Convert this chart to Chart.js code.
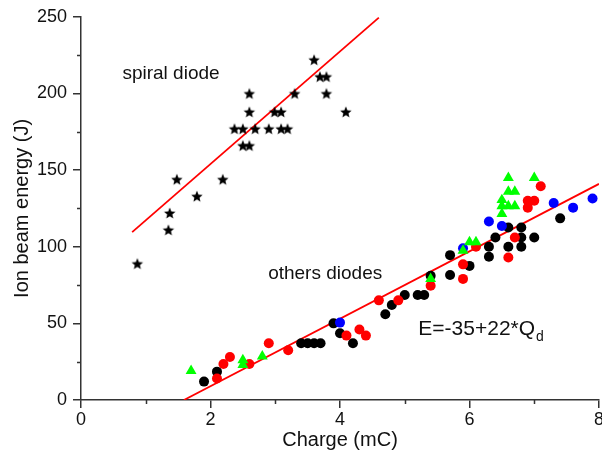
<!DOCTYPE html>
<html>
<head>
<meta charset="utf-8">
<script src="https://cdn.jsdelivr.net/npm/chart.js@4/dist/chart.umd.min.js"></script>
<style>
  html, body { margin: 0; padding: 0; background: #fff; overflow: hidden; }
  #caixa { width: 620px; height: 463px; }
</style>
</head>
<body>
<div id="caixa"><canvas id="grafico" width="620" height="463"></canvas></div>
<script>
// spiral diode (stars)
const espiralX = [0.87, 1.35, 1.37, 1.48, 1.79, 2.19, 2.37, 2.5, 2.5, 2.6, 2.6, 2.6, 2.69, 2.9, 2.99, 3.09, 3.09, 3.19, 3.3, 3.6, 3.69, 3.79, 3.79, 4.09];
const espiralY = [89, 111, 122, 144, 133, 144, 177, 177, 166, 166, 188, 200, 177, 177, 188, 188, 177, 177, 200, 222, 211, 211, 200, 188];

// others diodes
const pretoX = [1.9, 2.1, 3.4, 3.5, 3.6, 3.7, 3.9, 4.0, 4.2, 4.7, 4.8, 5.0, 5.2, 5.3, 5.4, 5.7, 5.7, 6.0, 6.3, 6.3, 6.4, 6.6, 6.6, 6.8, 6.8, 6.8, 7.0, 7.4];
const pretoY = [12, 18.5, 37, 37, 37, 37, 50, 43.5, 37, 56, 62, 68.5, 68.5, 68.5, 81, 81.5, 94.5, 87.5, 100, 93.5, 106, 112.5, 100, 112.5, 106, 100, 106, 118.5];

const vermelhoX = [2.1, 2.2, 2.3, 2.6, 2.9, 3.2, 4.1, 4.3, 4.4, 4.6, 4.9, 5.4, 5.9, 5.9, 6.1, 6.6, 6.7, 6.9, 7.0, 6.9, 7.1];
const vermelhoY = [14, 23.5, 28, 23.5, 37, 32.5, 42, 46, 42, 65, 65, 74.5, 88.5, 79, 100, 93, 106, 130, 130, 125.5, 139.5];

const azulX = [4.0, 5.9, 6.3, 6.5, 7.3, 7.6, 7.9];
const azulY = [50.5, 99, 116.5, 113.5, 128.5, 125.5, 131.5];

const verdeX = [1.7, 2.5, 2.5, 2.8, 5.4, 5.9, 6.0, 6.1, 6.5, 6.5, 6.5, 6.6, 6.6, 6.6, 6.7, 6.7, 7.0];
const verdeY = [19, 26, 23, 28.5, 79, 97.5, 103, 103, 130.5, 126.5, 121.5, 145, 136, 126.5, 136, 126.5, 145];

// fitted lines (end points)
const ajusteEspiralX = [0.79, 4.6];
const ajusteEspiralY = [109.5, 249.5];
const ajusteOutrosX = [1.59, 8];
const ajusteOutrosY = [0, 141];

const ticksX = [0, 2, 4, 6, 8];
const ticksY = [0, 50, 100, 150, 200, 250];
const menoresX = [1, 3, 5, 7];
const menoresY = [25, 75, 125, 175, 225];

function juntar(xs, ys) {
    return xs.map((v, i) => ({ x: v, y: ys[i] }));
}

function criarEstrela(raio) {
    const c = document.createElement('canvas');
    const tam = Math.ceil(raio * 2) + 2;
    c.width = tam;
    c.height = tam;
    const g = c.getContext('2d');
    g.fillStyle = '#000';
    g.beginPath();
    for (let i = 0; i < 10; i++) {
        const r = i % 2 === 0 ? raio : raio * 0.45;
        const ang = -Math.PI / 2 + i * Math.PI / 5;
        const px = tam / 2 + r * Math.cos(ang);
        const py = tam / 2 + r * Math.sin(ang) + 0.6;
        if (i === 0) g.moveTo(px, py); else g.lineTo(px, py);
    }
    g.closePath();
    g.fill();
    return c;
}

const fonte = 'Liberation Sans, Arial, sans-serif';
const corEixo = '#333';

const textos = {
    id: 'textos',
    afterDraw(chart) {
        const { ctx, scales: { x, y }, chartArea } = chart;
        ctx.save();
        ctx.strokeStyle = corEixo;
        ctx.lineWidth = 1.5;
        ctx.beginPath();
        menoresX.forEach(v => {
            const p = Math.round(x.getPixelForValue(v)) + 0.5;
            ctx.moveTo(p, chartArea.bottom);
            ctx.lineTo(p, chartArea.bottom + 4);
        });
        menoresY.forEach(v => {
            const p = Math.round(y.getPixelForValue(v)) + 0.5;
            ctx.moveTo(chartArea.left - 4, p);
            ctx.lineTo(chartArea.left, p);
        });
        ctx.stroke();

        ctx.fillStyle = '#111';
        ctx.textBaseline = 'middle';
        ctx.textAlign = 'left';
        ctx.font = '19px ' + fonte;
        ctx.fillText('spiral diode', x.getPixelForValue(0.64), y.getPixelForValue(213));
        ctx.fillText('others diodes', x.getPixelForValue(2.89), y.getPixelForValue(82.5));

        ctx.font = '21px ' + fonte;
        const ex = x.getPixelForValue(5.21);
        const ey = y.getPixelForValue(46);
        const eq = 'E=-35+22*Q';
        ctx.fillText(eq, ex, ey);
        const w = ctx.measureText(eq).width;
        ctx.font = '14px ' + fonte;
        ctx.fillText('d', ex + w + 1, ey + 8);
        ctx.restore();
    }
};

const ctx = document.getElementById('grafico').getContext('2d');

const grafico = new Chart(ctx, {
    type: 'scatter',
    data: {
        datasets: [
            {
                label: 'green',
                data: juntar(verdeX, verdeY),
                pointStyle: 'triangle',
                pointRadius: 6.3,
                backgroundColor: '#00ff00',
                borderColor: '#00ff00',
                borderWidth: 0,
                order: 1
            },
            {
                label: 'blue',
                data: juntar(azulX, azulY),
                pointRadius: 5,
                backgroundColor: '#0000ff',
                borderColor: '#0000ff',
                borderWidth: 0,
                order: 2
            },
            {
                label: 'red',
                data: juntar(vermelhoX, vermelhoY),
                pointRadius: 5,
                backgroundColor: '#ff0000',
                borderColor: '#ff0000',
                borderWidth: 0,
                order: 3
            },
            {
                label: 'black',
                data: juntar(pretoX, pretoY),
                pointRadius: 5,
                backgroundColor: '#000',
                borderColor: '#000',
                borderWidth: 0,
                order: 4
            },
            {
                label: 'spiral',
                data: juntar(espiralX, espiralY),
                pointStyle: criarEstrela(6),
                pointRadius: 6,
                order: 5
            },
            {
                type: 'line',
                label: 'fit spiral',
                data: juntar(ajusteEspiralX, ajusteEspiralY),
                borderColor: '#ff0000',
                borderWidth: 1.8,
                pointRadius: 0,
                fill: false,
                order: 10
            },
            {
                type: 'line',
                label: 'fit others',
                data: juntar(ajusteOutrosX, ajusteOutrosY),
                borderColor: '#ff0000',
                borderWidth: 1.8,
                pointRadius: 0,
                fill: false,
                order: 10
            }
        ]
    },
    options: {
        responsive: false,
        animation: false,
        events: [],
        layout: {
            padding: { left: 0, top: 16, right: 21, bottom: 0 }
        },
        plugins: {
            legend: { display: false },
            tooltip: { enabled: false }
        },
        scales: {
            x: {
                type: 'linear',
                min: 0,
                max: 8,
                afterBuildTicks(scale) {
                    scale.ticks = ticksX.map(v => ({ value: v }));
                },
                afterFit(scale) {
                    scale.height = 63;
                },
                ticks: {
                    color: '#111',
                    font: { family: fonte, size: 18 },
                    padding: 1,
                    maxRotation: 0
                },
                grid: {
                    display: true,
                    drawOnChartArea: false,
                    drawTicks: true,
                    tickLength: 8,
                    color: corEixo,
                    lineWidth: 1.5
                },
                border: { display: true, color: corEixo, width: 1.5 },
                title: {
                    display: true,
                    text: 'Charge (mC)',
                    color: '#111',
                    font: { family: fonte, size: 20 },
                    padding: { top: 0, bottom: 11 }
                }
            },
            y: {
                type: 'linear',
                min: 0,
                max: 250,
                afterBuildTicks(scale) {
                    scale.ticks = ticksY.map(v => ({ value: v }));
                },
                afterFit(scale) {
                    scale.width = 81;
                },
                ticks: {
                    color: '#111',
                    font: { family: fonte, size: 18 },
                    padding: 6
                },
                grid: {
                    display: true,
                    drawOnChartArea: false,
                    drawTicks: true,
                    tickLength: 8,
                    color: corEixo,
                    lineWidth: 1.5
                },
                border: { display: true, color: corEixo, width: 1.5 },
                title: {
                    display: true,
                    text: 'Ion beam energy (J)',
                    color: '#111',
                    font: { family: fonte, size: 20 },
                    padding: { top: 10, bottom: 0 }
                }
            }
        }
    },
    plugins: [textos]
});
</script>
</body>
</html>
